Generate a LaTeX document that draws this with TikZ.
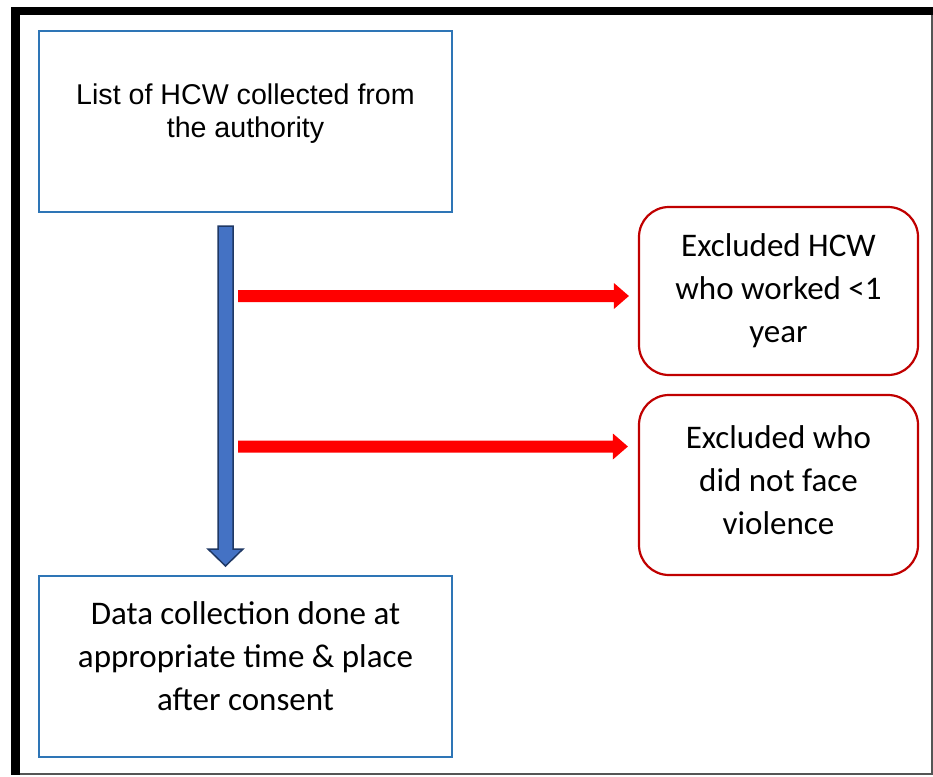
\documentclass[tikz,border=0pt]{standalone}
\usepackage{fontspec}
\setmainfont{Carlito}
\newfontfamily\arialf{Liberation Sans}
\usetikzlibrary{calc}
\definecolor{boxblue}{HTML}{2E75B6}
\definecolor{arrowblue}{HTML}{4472C4}
\definecolor{arrowedge}{HTML}{1F3864}
\definecolor{boxred}{HTML}{C00000}
\definecolor{arrowred}{HTML}{FF0000}
\definecolor{framegray}{HTML}{555555}
\begin{document}
\begin{tikzpicture}[x=1pt,y=-1pt,
  bluebox/.style={draw=boxblue, line width=2pt, minimum width=413pt, minimum height=181pt, inner sep=0pt},
  redbox/.style={draw=boxred, line width=2.2pt, rounded corners=30pt, minimum width=279pt, inner sep=0pt},
  arialtext/.style={font=\arialf\fontsize{28.6}{33}\selectfont, align=center, inner sep=0pt},
  calitext/.style={font=\fontsize{33}{43}\selectfont, align=center, inner sep=0pt},
  bluearrow/.style={fill=arrowblue, draw=arrowedge, line width=1.5pt, line join=miter},
  redarrow/.style={fill=arrowred, draw=none}]
\useasboundingbox (0,0) rectangle (933,776);
% frame
\fill[white] (0,0) rectangle (933,776);
\fill[black] (11,7) rectangle (932.5,15);
\fill[black] (11,7) rectangle (20,775);
\draw[framegray, line width=1.2pt] (20,774) -- (932,774) -- (932,15);
% boxes
\node[bluebox] (list) at (245.5,121.5) {};
\node[arialtext] (listtxt) at ([yshift=8pt]list.center) {List of HCW collected from\\the authority};
\node[bluebox] (data) at (245.5,666.5) {};
\node[calitext] (datatxt) at ([yshift=10pt]data.center) {Data collection done at\\appropriate time \& place\\after consent};
\node[redbox, minimum height=168pt] (ex1) at (778.5,291) {};
\node[calitext] (ex1txt) at (ex1.center) {Excluded HCW\\who worked <1\\year};
\node[redbox, minimum height=180pt] (ex2) at (778.5,485) {};
\node[calitext] (ex2txt) at ([yshift=5pt]ex2.center) {Excluded who\\did not face\\violence};
% blue down arrow
\coordinate (bstart) at ([xshift=-20pt,yshift=-13pt]list.south);
\coordinate (bend) at ([xshift=-20pt,yshift=9pt]data.north);
\draw[bluearrow] ([xshift=-7.5pt]bstart) -- ([xshift=7.5pt]bstart)
  -- ([xshift=7.5pt,yshift=17pt]bend) -- ([xshift=17.5pt,yshift=17pt]bend)
  -- (bend) -- ([xshift=-17.5pt,yshift=17pt]bend)
  -- ([xshift=-7.5pt,yshift=17pt]bend) -- cycle;
% red arrows
\coordinate (r1e) at ([xshift=-9pt,yshift=-5pt]ex1.west);
\coordinate (r1s) at ([xshift=12.5pt]r1e -| bstart);
\coordinate (r2e) at ([xshift=-10pt,yshift=38.5pt]ex2.west);
\coordinate (r2s) at ([xshift=12.5pt]r2e -| bstart);
\foreach \s/\e in {r1s/r1e, r2s/r2e}{
  \fill[redarrow] ([yshift=6pt]\s) -- ([xshift=-15pt,yshift=6pt]\e)
    -- ([xshift=-15pt,yshift=13pt]\e) -- (\e) -- ([xshift=-15pt,yshift=-13pt]\e)
    -- ([xshift=-15pt,yshift=-6pt]\e) -- ([yshift=-6pt]\s) -- cycle;
}
\end{tikzpicture}
\end{document}
